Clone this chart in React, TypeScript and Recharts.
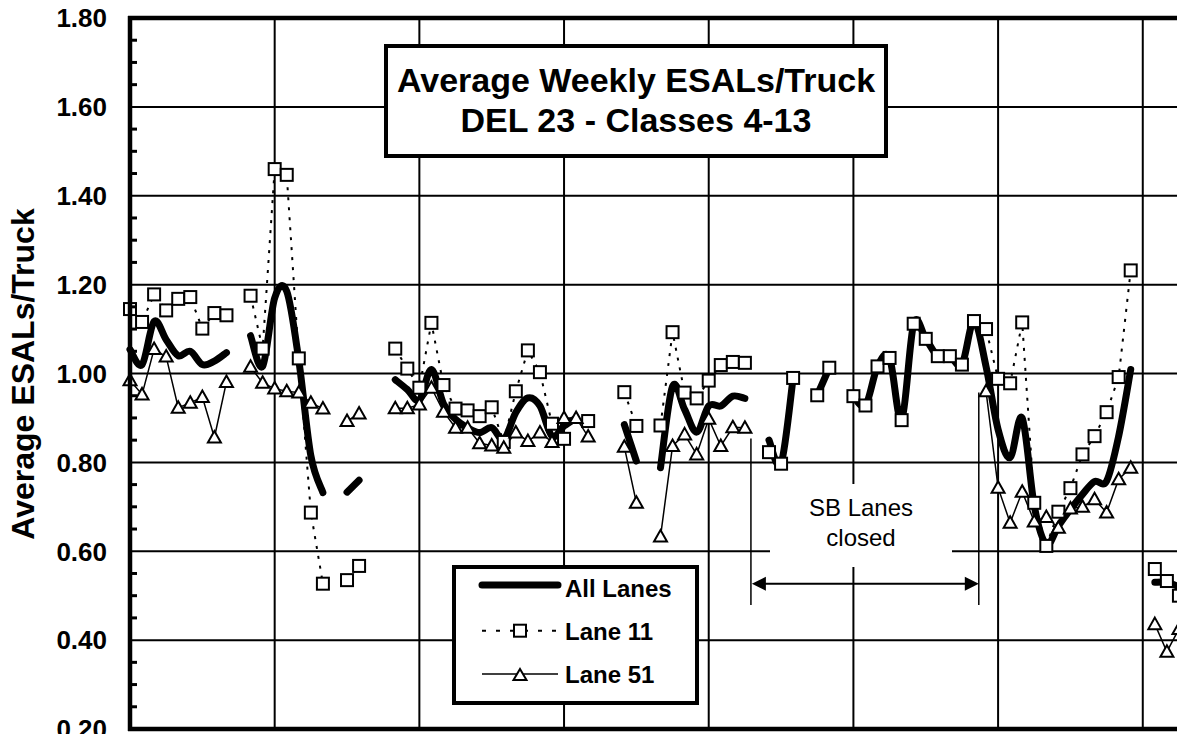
import { CartesianGrid, Legend, Line, LineChart, ReferenceLine, XAxis, YAxis } from 'recharts';

const FONT = '"Liberation Sans", Arial, sans-serif';

// week index along the x axis (one point per week, gridline every 12)
const weeks = Array.from({ length: 88 }, (_, i) => i);

const allLanes = [
  1.054, 1.02, 1.117, 1.076, 1.04, 1.05, 1.02, 1.028, 1.047, null, 1.085, 1.016,
  1.17, 1.185, 1.03, 0.815, 0.732, null, 0.733, 0.76, null, null, 0.986, 0.964,
  0.94, 1.009, 0.932, 0.897, 0.878, 0.867, 0.878, 0.852, 0.912, 0.945, 0.927, 0.859,
  0.882, 0.9, null, null, null, 0.885, 0.803, null, 0.788, 0.971, 0.919, 0.868,
  0.927, 0.927, 0.949, 0.944, null, 0.85, 0.797, 0.99, null, 0.951, 1.013, null,
  0.949, 0.928, 1.016, 1.035, 0.895, 1.112, 1.078, 1.039, 1.039, 1.02, 1.118, 1.016,
  0.874, 0.811, 0.9, 0.702, 0.616, 0.657, 0.694, 0.728, 0.757, 0.758, 0.859, 1.009,
  null, 0.53, 0.53, 0.52,
];

const lane11 = [
  1.145, 1.116, 1.178, 1.142, 1.168, 1.172, 1.101, 1.136, 1.131, null, 1.175, 1.056,
  1.46, 1.447, 1.034, 0.687, 0.527, null, 0.535, 0.567, null, null, 1.056, 1.011,
  0.968, 1.114, 0.974, 0.921, 0.917, 0.904, 0.924, 0.846, 0.96, 1.052, 1.003, 0.887,
  0.853, null, 0.893, null, null, 0.958, 0.882, null, 0.883, 1.093, 0.957, 0.944,
  0.984, 1.019, 1.026, 1.024, null, 0.823, 0.797, 0.99, null, 0.951, 1.013, null,
  0.949, 0.928, 1.016, 1.035, 0.895, 1.112, 1.078, 1.039, 1.039, 1.02, 1.118, 1.1,
  0.988, 0.978, 1.115, 0.709, 0.612, 0.689, 0.742, 0.818, 0.859, 0.913, 0.992, 1.232,
  null, 0.56, 0.533, 0.5,
];

const lane51 = [
  0.985, 0.953, 1.055, 1.038, 0.923, 0.934, 0.947, 0.856, 0.981, null, 1.015, 0.979,
  0.966, 0.96, 0.957, 0.934, 0.921, null, 0.893, 0.91, null, null, 0.922, 0.922,
  0.93, 0.968, 0.914, 0.878, 0.878, 0.843, 0.838, 0.833, 0.867, 0.848, 0.867, 0.846,
  0.9, 0.9, 0.858, null, null, 0.835, 0.709, null, 0.633, 0.837, 0.863, 0.818,
  0.898, 0.837, 0.879, 0.878, null, null, null, null, null, null, null, null,
  null, null, null, null, null, null, null, null, null, null, null, 0.96,
  0.743, 0.664, 0.734, 0.667, 0.677, 0.653, 0.696, 0.7, 0.717, 0.687, 0.762, 0.788,
  null, 0.436, 0.374, 0.425,
];

const yMajorTicks = [0.2, 0.4, 0.6, 0.8, 1.0, 1.2, 1.4, 1.6, 1.8];
const yMinorTicks = [
  0.25, 0.3, 0.35, 0.45, 0.5, 0.55, 0.65, 0.7, 0.75, 0.85, 0.9, 0.95,
  1.05, 1.1, 1.15, 1.25, 1.3, 1.35, 1.45, 1.5, 1.55, 1.65, 1.7, 1.75,
];
const xGridTicks = [12, 24, 36, 48, 60, 72, 84];
const xDomain = [0, 88];
const yDomain = [0.2, 1.8];

// "SB Lanes closed" bracket, in week / ESAL units
const closedStart = 51.5;
const closedEnd = 70.4;

const data = weeks.map((w, i) => ({
  week: w,
  all: allLanes[i],
  l11: lane11[i],
  l51: lane51[i],
}));

const CHART_W = 1191;
const CHART_H = 734;
const MARGIN = { top: 18, right: 0, bottom: 5, left: 0 };
const Y_AXIS_W = 130;
const TICK_MARGIN = 23;

// Excel-like smoothed line (Catmull-Rom through every point)
function smoothCurve(context: any) {
  let pts: number[][] = [];
  return {
    areaStart() {},
    areaEnd() {},
    lineStart() {
      pts = [];
    },
    lineEnd() {
      if (pts.length === 0) return;
      context.moveTo(pts[0][0], pts[0][1]);
      if (pts.length === 1) {
        context.lineTo(pts[0][0], pts[0][1]);
        return;
      }
      for (let i = 0; i < pts.length - 1; i++) {
        const p0 = pts[Math.max(i - 1, 0)];
        const p1 = pts[i];
        const p2 = pts[i + 1];
        const p3 = pts[Math.min(i + 2, pts.length - 1)];
        context.bezierCurveTo(
          p1[0] + (p2[0] - p0[0]) / 6,
          p1[1] + (p2[1] - p0[1]) / 6,
          p2[0] - (p3[0] - p1[0]) / 6,
          p2[1] - (p3[1] - p1[1]) / 6,
          p2[0],
          p2[1],
        );
      }
    },
    point(x: number, y: number) {
      pts.push([+x, +y]);
    },
  };
}

function YTick(props: any) {
  const { x, y, payload } = props;
  const v = payload.value;
  const major = yMajorTicks.some((t) => Math.abs(t - v) < 1e-6);
  if (major) {
    return (
      <text x={x} y={y} dy="0.36em" textAnchor="end" fontSize={26} fontWeight="bold" fontFamily={FONT} fill="#000">
        {v.toFixed(2)}
      </text>
    );
  }
  const ax = x + TICK_MARGIN;
  return <line x1={ax} x2={ax + 7} y1={y} y2={y} stroke="#000" strokeWidth={3} />;
}

function SquareDot(props: any) {
  const { cx, cy, index } = props;
  if (cx == null || cy == null) return <g key={`s${index}`} />;
  return <rect key={`s${index}`} x={cx - 6} y={cy - 6} width={12} height={12} fill="#fff" stroke="#000" strokeWidth={2} />;
}

function TriangleDot(props: any) {
  const { cx, cy, index } = props;
  if (cx == null || cy == null) return <g key={`t${index}`} />;
  return (
    <polygon
      key={`t${index}`}
      points={`${cx},${cy - 6.5} ${cx + 6.5},${cy + 5} ${cx - 6.5},${cy + 5}`}
      fill="#fff"
      stroke="#000"
      strokeWidth={2}
    />
  );
}

function DoubleArrow(props: any) {
  const { x1, y1, x2, y2 } = props;
  const y = (y1 + y2) / 2;
  return (
    <g>
      <line x1={x1 + 10} x2={x2 - 10} y1={y} y2={y} stroke="#000" strokeWidth={2} />
      <polygon points={`${x1},${y} ${x1 + 14},${y - 7} ${x1 + 14},${y + 7}`} fill="#000" />
      <polygon points={`${x2},${y} ${x2 - 14},${y - 7} ${x2 - 14},${y + 7}`} fill="#000" />
    </g>
  );
}

const legendRows = [
  { line: 16, text: 27.7 },
  { line: 61.7, text: 71 },
  { line: 105, text: 113.7 },
];

function LegendBox(props: any) {
  const payload = props.payload || [];
  return (
    <div
      style={{
        width: 247,
        height: 140,
        boxSizing: 'border-box',
        border: '4px solid #000',
        background: '#fff',
      }}
    >
      <svg width={239} height={132} style={{ display: 'block' }}>
        {payload.map((entry: any, i: number) => {
          const row = legendRows[i];
          const key = entry.dataKey;
          return (
            <g key={entry.value}>
              {key === 'all' && (
                <line x1={26} x2={102} y1={row.line} y2={row.line} stroke="#000" strokeWidth={7} strokeLinecap="round" />
              )}
              {key === 'l11' && (
                <g>
                  <line x1={26} x2={104} y1={row.line} y2={row.line} stroke="#000" strokeWidth={2} strokeDasharray="4 10" />
                  <rect x={58} y={row.line - 6} width={12} height={12} fill="#fff" stroke="#000" strokeWidth={2} />
                </g>
              )}
              {key === 'l51' && (
                <g>
                  <line x1={26} x2={102} y1={row.line} y2={row.line} stroke="#000" strokeWidth={1.5} />
                  <polygon
                    points={`64,${row.line - 5} 70.5,${row.line + 6} 57.5,${row.line + 6}`}
                    fill="#fff"
                    stroke="#000"
                    strokeWidth={2}
                  />
                </g>
              )}
              <text x={109} y={row.text} fontSize={24} fontWeight="bold" fontFamily={FONT} fill="#000">
                {entry.value}
              </text>
            </g>
          );
        })}
      </svg>
    </div>
  );
}

export default function App() {
  const plotLeft = MARGIN.left + Y_AXIS_W;
  const plotTop = MARGIN.top;
  const plotBottom = CHART_H - MARGIN.bottom;
  const plotRight = CHART_W - MARGIN.right;

  return (
    <div
      style={{
        position: 'absolute',
        left: 0,
        top: 0,
        width: 1177,
        height: 734,
        overflow: 'hidden',
        background: '#fff',
        fontFamily: FONT,
      }}
    >
      <LineChart width={CHART_W} height={CHART_H} data={data} margin={MARGIN}>
        <CartesianGrid stroke="#000" strokeWidth={2} vertical={false} horizontalValues={yMajorTicks} />
        <XAxis type="number" dataKey="week" domain={xDomain} hide />
        <YAxis
          type="number"
          domain={yDomain}
          ticks={[...yMajorTicks, ...yMinorTicks].sort((a, b) => a - b)}
          interval={0}
          width={Y_AXIS_W}
          tickSize={0}
          tickMargin={TICK_MARGIN}
          tickLine={false}
          tick={<YTick />}
          axisLine={false}
        />
        {/* vertical gridlines */}
        {xGridTicks.map((v) => (
          <ReferenceLine
            key={`vg${v}`}
            ifOverflow="visible"
            segment={[
              { x: v, y: yDomain[0] },
              { x: v, y: yDomain[1] },
            ]}
            stroke="#000"
            strokeWidth={2}
          />
        ))}
        {/* SB lanes closed bracket */}
        <ReferenceLine
          ifOverflow="visible"
          segment={[
            { x: closedStart, y: 0.854 },
            { x: closedStart, y: 0.479 },
          ]}
          stroke="#000"
          strokeWidth={1.5}
        />
        <ReferenceLine
          ifOverflow="visible"
          segment={[
            { x: closedEnd, y: 0.957 },
            { x: closedEnd, y: 0.479 },
          ]}
          stroke="#000"
          strokeWidth={1.5}
        />
        <ReferenceLine
          ifOverflow="visible"
          segment={[
            { x: closedStart + 0.08, y: 0.527 },
            { x: closedEnd, y: 0.527 },
          ]}
          shape={<DoubleArrow />}
        />
        <Line
          dataKey="all"
          name="All Lanes"
          type={smoothCurve as any}
          stroke="#000"
          strokeWidth={7}
          strokeLinecap="round"
          strokeLinejoin="round"
          dot={false}
          activeDot={false}
          isAnimationActive={false}
        />
        <Line
          dataKey="l11"
          name="Lane 11"
          type="linear"
          stroke="#000"
          strokeWidth={2}
          strokeDasharray="3 7"
          dot={SquareDot}
          activeDot={false}
          isAnimationActive={false}
        />
        <Line
          dataKey="l51"
          name="Lane 51"
          type="linear"
          stroke="#000"
          strokeWidth={1.5}
          dot={TriangleDot}
          activeDot={false}
          isAnimationActive={false}
        />
        <Legend
          layout="vertical"
          align="center"
          verticalAlign="middle"
          content={<LegendBox />}
          wrapperStyle={{ left: 452, top: 565, width: 247, height: 140 }}
        />
      </LineChart>

      {/* heavy plot frame (left, top, bottom) */}
      <svg
        width={1177}
        height={734}
        style={{ position: 'absolute', left: 0, top: 0, zIndex: 3, pointerEvents: 'none' }}
      >
        <line x1={plotLeft - 2} x2={1177} y1={plotTop} y2={plotTop} stroke="#000" strokeWidth={4.5} />
        <line x1={plotLeft - 2} x2={1177} y1={plotBottom} y2={plotBottom} stroke="#000" strokeWidth={4.5} />
        <line x1={plotLeft} x2={plotLeft} y1={plotTop - 2} y2={plotBottom + 2} stroke="#000" strokeWidth={4.5} />
      </svg>

      {/* chart title box */}
      <div
        style={{
          position: 'absolute',
          zIndex: 4,
          left: 384,
          top: 44,
          width: 504,
          height: 114,
          boxSizing: 'border-box',
          border: '4px solid #000',
          background: '#fff',
          paddingTop: 12,
          textAlign: 'center',
          fontSize: 34,
          lineHeight: '40px',
          fontWeight: 'bold',
        }}
      >
        Average Weekly ESALs/Truck
        <br />
        DEL 23 - Classes 4-13
      </div>

      {/* y axis title */}
      <div
        style={{
          position: 'absolute',
          left: 23 - 250,
          top: 374 - 18,
          width: 500,
          height: 36,
          lineHeight: '36px',
          textAlign: 'center',
          fontSize: 32,
          fontWeight: 'bold',
          transform: 'rotate(-90deg)',
        }}
      >
        Average ESALs/Truck
      </div>

      {/* SB lanes closed note */}
      <div
        style={{
          position: 'absolute',
          left: 770,
          top: 484,
          width: 182,
          height: 83,
          background: '#fff',
        }}
      />
      <div
        style={{
          position: 'absolute',
          left: 761,
          top: 493,
          width: 200,
          textAlign: 'center',
          fontSize: 24,
          lineHeight: '30px',
        }}
      >
        SB Lanes
        <br />
        closed
      </div>
    </div>
  );
}
